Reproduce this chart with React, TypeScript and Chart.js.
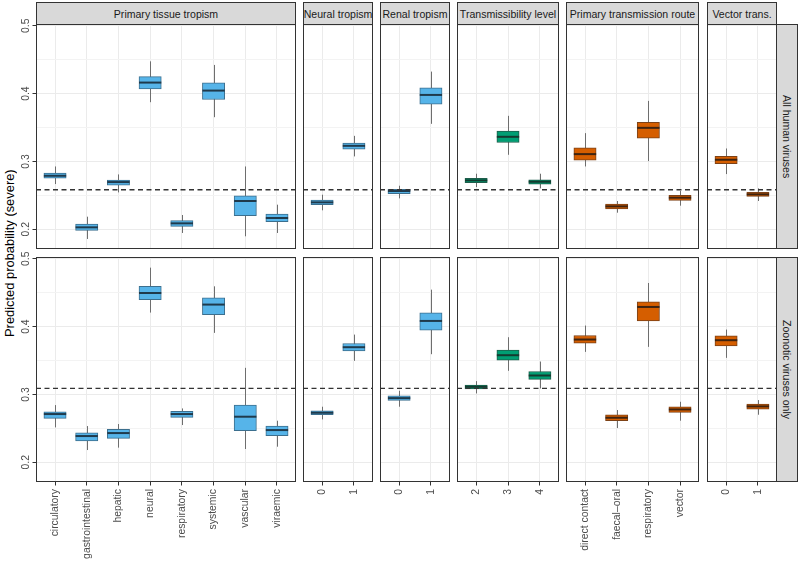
import React, { useEffect, useRef } from 'react';
import { Chart, registerables } from 'chart.js';

Chart.register(...registerables);

// Each box: [lower whisker, q1, median, q3, upper whisker]
type Box = [number, number, number, number, number];

const Y_AXIS_TITLE = 'Predicted probability (severe)';
const ROW_LABELS = ['All human viruses', 'Zoonotic viruses only'];
const FACET_LABELS = [
  'Primary tissue tropism',
  'Neural tropism',
  'Renal tropism',
  'Transmissibility level',
  'Primary transmission route',
  'Vector trans.',
];

const TISSUE_CATS = ['circulatory', 'gastrointestinal', 'hepatic', 'neural', 'respiratory', 'systemic', 'vascular', 'viraemic'];
const NEURAL_CATS = ['0', '1'];
const RENAL_CATS = ['0', '1'];
const TRANS_CATS = ['2', '3', '4'];
const ROUTE_CATS = ['direct contact', 'faecal\u2013oral', 'respiratory', 'vector'];
const VECTOR_CATS = ['0', '1'];

// Row 1: all human viruses
const TISSUE_ALL: Box[] = [
  [0.2667, 0.2755, 0.2789, 0.2828, 0.2926],
  [0.1858, 0.1985, 0.2029, 0.2078, 0.2186],
  [0.2544, 0.2652, 0.2696, 0.2725, 0.2809],
  [0.3873, 0.4069, 0.4162, 0.4250, 0.4475],
  [0.1946, 0.2044, 0.2088, 0.2127, 0.2211],
  [0.3652, 0.3912, 0.4044, 0.4157, 0.4422],
  [0.1897, 0.2201, 0.2417, 0.2495, 0.2926],
  [0.1946, 0.2113, 0.2167, 0.2225, 0.2363],
];
const NEURAL_ALL: Box[] = [
  [0.2280, 0.2363, 0.2397, 0.2431, 0.2510],
  [0.3074, 0.3181, 0.3230, 0.3270, 0.3377],
];
const RENAL_ALL: Box[] = [
  [0.2456, 0.2525, 0.2564, 0.2588, 0.2642],
  [0.3554, 0.3843, 0.3980, 0.4083, 0.4324],
];
const TRANS_ALL: Box[] = [
  [0.2623, 0.2686, 0.2721, 0.2750, 0.2819],
  [0.3098, 0.3279, 0.3363, 0.3446, 0.3672],
  [0.2603, 0.2667, 0.2701, 0.2730, 0.2819],
];
const ROUTE_ALL: Box[] = [
  [0.2926, 0.3020, 0.3108, 0.3201, 0.3417],
  [0.2245, 0.2299, 0.2338, 0.2373, 0.2417],
  [0.3005, 0.3343, 0.3495, 0.3578, 0.3892],
  [0.2348, 0.2426, 0.2466, 0.2500, 0.2564],
];
const VECTOR_ALL: Box[] = [
  [0.2814, 0.2966, 0.3025, 0.3074, 0.3191],
  [0.2417, 0.2485, 0.2515, 0.2544, 0.2603],
];

// Row 2: zoonotic viruses only
const TISSUE_ZOO: Box[] = [
  [0.2515, 0.2647, 0.2711, 0.2745, 0.2843],
  [0.2181, 0.2314, 0.2387, 0.2436, 0.2534],
  [0.2216, 0.2353, 0.2431, 0.2485, 0.2564],
  [0.4206, 0.4397, 0.4495, 0.4593, 0.4868],
  [0.2549, 0.2662, 0.2711, 0.2750, 0.2794],
  [0.3907, 0.4176, 0.4324, 0.4422, 0.4593],
  [0.2196, 0.2466, 0.2672, 0.2843, 0.3392],
  [0.2230, 0.2392, 0.2475, 0.2534, 0.2613],
];
const NEURAL_ZOO: Box[] = [
  [0.2632, 0.2701, 0.2730, 0.2760, 0.2819],
  [0.3495, 0.3642, 0.3696, 0.3750, 0.3882],
];
const RENAL_ZOO: Box[] = [
  [0.2819, 0.2912, 0.2946, 0.2980, 0.3054],
  [0.3593, 0.3946, 0.4083, 0.4201, 0.4544],
];
const TRANS_ZOO: Box[] = [
  [0.3015, 0.3083, 0.3113, 0.3137, 0.3196],
  [0.3348, 0.3505, 0.3578, 0.3652, 0.3843],
  [0.3088, 0.3221, 0.3279, 0.3338, 0.3485],
];
const ROUTE_ZOO: Box[] = [
  [0.3627, 0.3755, 0.3809, 0.3868, 0.4015],
  [0.2505, 0.2613, 0.2657, 0.2701, 0.2770],
  [0.3701, 0.4083, 0.4289, 0.4363, 0.4642],
  [0.2613, 0.2735, 0.2779, 0.2819, 0.2892],
];
const VECTOR_ZOO: Box[] = [
  [0.3539, 0.3716, 0.3799, 0.3863, 0.3956],
  [0.2701, 0.2784, 0.2824, 0.2858, 0.2917],
];

// Dashed reference line per row (overall mean)
const REF_LINES = [0.2583, 0.3088];

const Y_LIMITS = [0.171, 0.5025];
const Y_MAJOR_TICKS = [0.2, 0.3, 0.4, 0.5];
const Y_MINOR_TICKS = [0.25, 0.35, 0.45];

const PALETTES = [
  { fill: '#56B4E9', edge: '#3c6f8e', median: '#1f3a4c' },
  { fill: '#009E73', edge: '#1f5e4b', median: '#143a2f' },
  { fill: '#D55E00', edge: '#7d4217', median: '#3e2310' },
];

const FACETS = [
  { cats: TISSUE_CATS, rows: [TISSUE_ALL, TISSUE_ZOO], palette: 0 },
  { cats: NEURAL_CATS, rows: [NEURAL_ALL, NEURAL_ZOO], palette: 0 },
  { cats: RENAL_CATS, rows: [RENAL_ALL, RENAL_ZOO], palette: 0 },
  { cats: TRANS_CATS, rows: [TRANS_ALL, TRANS_ZOO], palette: 1 },
  { cats: ROUTE_CATS, rows: [ROUTE_ALL, ROUTE_ZOO], palette: 2 },
  { cats: VECTOR_CATS, rows: [VECTOR_ALL, VECTOR_ZOO], palette: 2 },
];

// ---------- layout / style ----------
const W = 800;
const H = 561;
const COLS: [number, number][] = [[36, 296], [303, 373], [380, 450], [457, 559], [566, 699], [707, 777]];
const ROWS: [number, number][] = [[24, 249], [257, 482]];
const STRIP_TOP = 2;
const RIGHT_STRIP: [number, number] = [776, 798];
const LEFT_CANVAS = 14;
const LEFT_TOP_PAD = 8;
const BOX_PX = 22.3;
const FONT = '"Liberation Sans", Arial, Helvetica, sans-serif';
const TICK_SIZE = 10.4;
const TICK_COLOR = '#4d4d4d';
const GRID_MAJOR = '#EBEBEB';
const GRID_MINOR = '#F3F3F3';
const BORDER = '#333333';
const WHISKER = '#6e6e6e';

const isMajor = (v: number) => Y_MAJOR_TICKS.some((m) => Math.abs(m - v) < 1e-9);

function Panel({ col, row }: { col: number; row: number }) {
  const ref = useRef<HTMLCanvasElement | null>(null);
  const [pl, pr] = COLS[col];
  const [pt, pb] = ROWS[row];
  const isLeft = col === 0;
  const isBottom = row === ROWS.length - 1;
  const topPad = isLeft ? LEFT_TOP_PAD : 0;
  const x0 = isLeft ? LEFT_CANVAS : pl;
  const y0 = pt - topPad;
  const w = pr - x0;
  const h = (isBottom ? H : pb) - y0;
  const yAxisW = pl - x0;
  const xAxisH = isBottom ? H - pb : 0;

  useEffect(() => {
    const canvas = ref.current;
    if (!canvas) return;
    const facet = FACETS[col];
    const cats = facet.cats;
    const boxes = facet.rows[row];
    const pal = PALETTES[facet.palette];
    const refVal = REF_LINES[row];

    const parts = {
      id: 'boxParts',
      beforeDatasetsDraw(chart: any) {
        const { ctx, scales } = chart;
        const xs = scales.x;
        const ys = scales.y;
        ctx.save();
        ctx.strokeStyle = WHISKER;
        ctx.lineWidth = 1;
        boxes.forEach((b, i) => {
          const px = Math.round(xs.getPixelForValue(i)) + 0.5;
          ctx.beginPath();
          ctx.moveTo(px, ys.getPixelForValue(b[0]));
          ctx.lineTo(px, ys.getPixelForValue(b[4]));
          ctx.stroke();
        });
        ctx.restore();
      },
      afterDatasetsDraw(chart: any) {
        const { ctx, scales, chartArea } = chart;
        const ys = scales.y;
        const meta = chart.getDatasetMeta(0);
        ctx.save();
        ctx.strokeStyle = pal.median;
        ctx.lineWidth = 2;
        meta.data.forEach((bar: any, i: number) => {
          const { x, width } = bar.getProps(['x', 'width'], true);
          const py = ys.getPixelForValue(boxes[i][2]);
          ctx.beginPath();
          ctx.moveTo(x - width / 2, py);
          ctx.lineTo(x + width / 2, py);
          ctx.stroke();
        });
        // dashed reference line
        const ry = ys.getPixelForValue(refVal);
        ctx.strokeStyle = '#333333';
        ctx.lineWidth = 1.3;
        ctx.setLineDash([5, 3.5]);
        ctx.beginPath();
        ctx.moveTo(chartArea.left, ry);
        ctx.lineTo(chartArea.right, ry);
        ctx.stroke();
        ctx.restore();
      },
      afterDraw(chart: any) {
        const { ctx, chartArea, scales } = chart;
        ctx.save();
        ctx.strokeStyle = BORDER;
        ctx.lineWidth = 1;
        ctx.strokeRect(chartArea.left + 0.5, chartArea.top + 0.5, chartArea.width - 1, chartArea.height - 1);
        if (isLeft) {
          ctx.fillStyle = TICK_COLOR;
          ctx.font = `${TICK_SIZE}px ${FONT}`;
          ctx.textAlign = 'center';
          ctx.textBaseline = 'alphabetic';
          Y_MAJOR_TICKS.forEach((v) => {
            const py = scales.y.getPixelForValue(v);
            ctx.save();
            ctx.translate(chartArea.left - 6.6, py);
            ctx.rotate(-Math.PI / 2);
            ctx.fillText(v.toFixed(1), 0, 0);
            ctx.restore();
          });
        }
        ctx.restore();
      },
    };

    const chart = new Chart(canvas, {
      type: 'bar',
      data: {
        datasets: [
          {
            data: boxes.map((b, i) => ({ x: i, y: [b[1], b[3]] })),
            backgroundColor: pal.fill,
            borderColor: pal.edge,
            borderWidth: 1,
            borderSkipped: false,
            barThickness: BOX_PX,
          } as any,
        ],
      },
      options: {
        animation: false,
        responsive: false,
        maintainAspectRatio: false,
        devicePixelRatio: 1,
        events: [],
        layout: { padding: { top: topPad, left: 0, right: 0, bottom: 0 }, autoPadding: false },
        plugins: {
          legend: { display: false },
          tooltip: { enabled: false },
          title: { display: false },
        },
        scales: {
          x: {
            type: 'linear',
            min: -0.6,
            max: cats.length - 1 + 0.6,
            offset: false,
            afterBuildTicks: (s: any) => {
              s.ticks = cats.map((_, i) => ({ value: i }));
            },
            afterFit: (s: any) => {
              s.height = xAxisH;
            },
            ticks: {
              display: isBottom,
              autoSkip: false,
              minRotation: 90,
              maxRotation: 90,
              padding: 3.5,
              color: TICK_COLOR,
              font: { family: FONT, size: TICK_SIZE },
              callback: (_v: any, i: number) => cats[i],
            },
            grid: {
              offset: false,
              color: GRID_MAJOR,
              lineWidth: 1,
              drawTicks: isBottom,
              tickLength: 3.5,
              tickColor: BORDER,
              tickWidth: 1,
            },
            border: { display: false },
          },
          y: {
            type: 'linear',
            min: Y_LIMITS[0],
            max: Y_LIMITS[1],
            beginAtZero: false,
            afterBuildTicks: (s: any) => {
              s.ticks = [...Y_MAJOR_TICKS, ...Y_MINOR_TICKS].sort((a, b) => a - b).map((v) => ({ value: v }));
            },
            afterFit: (s: any) => {
              s.width = yAxisW;
            },
            ticks: { display: false },
            grid: {
              color: (c: any) => (c.tick && isMajor(c.tick.value) ? GRID_MAJOR : GRID_MINOR),
              lineWidth: 1,
              drawTicks: isLeft,
              tickLength: 3.5,
              tickColor: (c: any) => (c.tick && isMajor(c.tick.value) ? BORDER : 'rgba(0,0,0,0)'),
              tickWidth: 1,
            },
            border: { display: false },
          },
        } as any,
      },
      plugins: [parts as any],
    });
    return () => chart.destroy();
  }, [col, row]);

  return (
    <canvas
      ref={ref}
      width={w}
      height={h}
      style={{ position: 'absolute', left: x0, top: y0, width: w, height: h }}
    />
  );
}

export default function App() {
  const stripBase: React.CSSProperties = {
    position: 'absolute',
    boxSizing: 'border-box',
    background: '#D9D9D9',
    border: `1px solid ${BORDER}`,
    display: 'flex',
    alignItems: 'center',
    justifyContent: 'center',
    fontFamily: FONT,
    fontSize: 10.56,
    color: '#1a1a1a',
    whiteSpace: 'nowrap',
    overflow: 'visible',
  };
  return (
    <div
      style={{
        position: 'absolute',
        left: 0,
        top: 0,
        width: W,
        height: H,
        background: '#ffffff',
        overflow: 'hidden',
      }}
    >
      {FACET_LABELS.map((lab, c) => (
        <div
          key={'s' + c}
          style={{
            ...stripBase,
            left: COLS[c][0],
            top: STRIP_TOP,
            width: COLS[c][1] - COLS[c][0],
            height: ROWS[0][0] - STRIP_TOP + 1,
          }}
        >
          {lab}
        </div>
      ))}
      {ROW_LABELS.map((lab, r) => (
        <div
          key={'r' + r}
          style={{
            ...stripBase,
            left: RIGHT_STRIP[0],
            top: ROWS[r][0],
            width: RIGHT_STRIP[1] - RIGHT_STRIP[0],
            height: ROWS[r][1] - ROWS[r][0],
            writingMode: 'vertical-rl',
          }}
        >
          {lab}
        </div>
      ))}
      <div
        style={{
          position: 'absolute',
          left: 1,
          top: ROWS[0][0],
          width: 16,
          height: ROWS[1][1] - ROWS[0][0],
          display: 'flex',
          alignItems: 'center',
          justifyContent: 'center',
          writingMode: 'vertical-rl',
          transform: 'rotate(180deg)',
          fontFamily: FONT,
          fontSize: 12.9,
          color: '#000000',
          whiteSpace: 'nowrap',
        }}
      >
        {Y_AXIS_TITLE}
      </div>
      {ROWS.map((_, r) =>
        COLS.map((__, c) => <Panel key={`p${r}-${c}`} col={c} row={r} />)
      )}
    </div>
  );
}
